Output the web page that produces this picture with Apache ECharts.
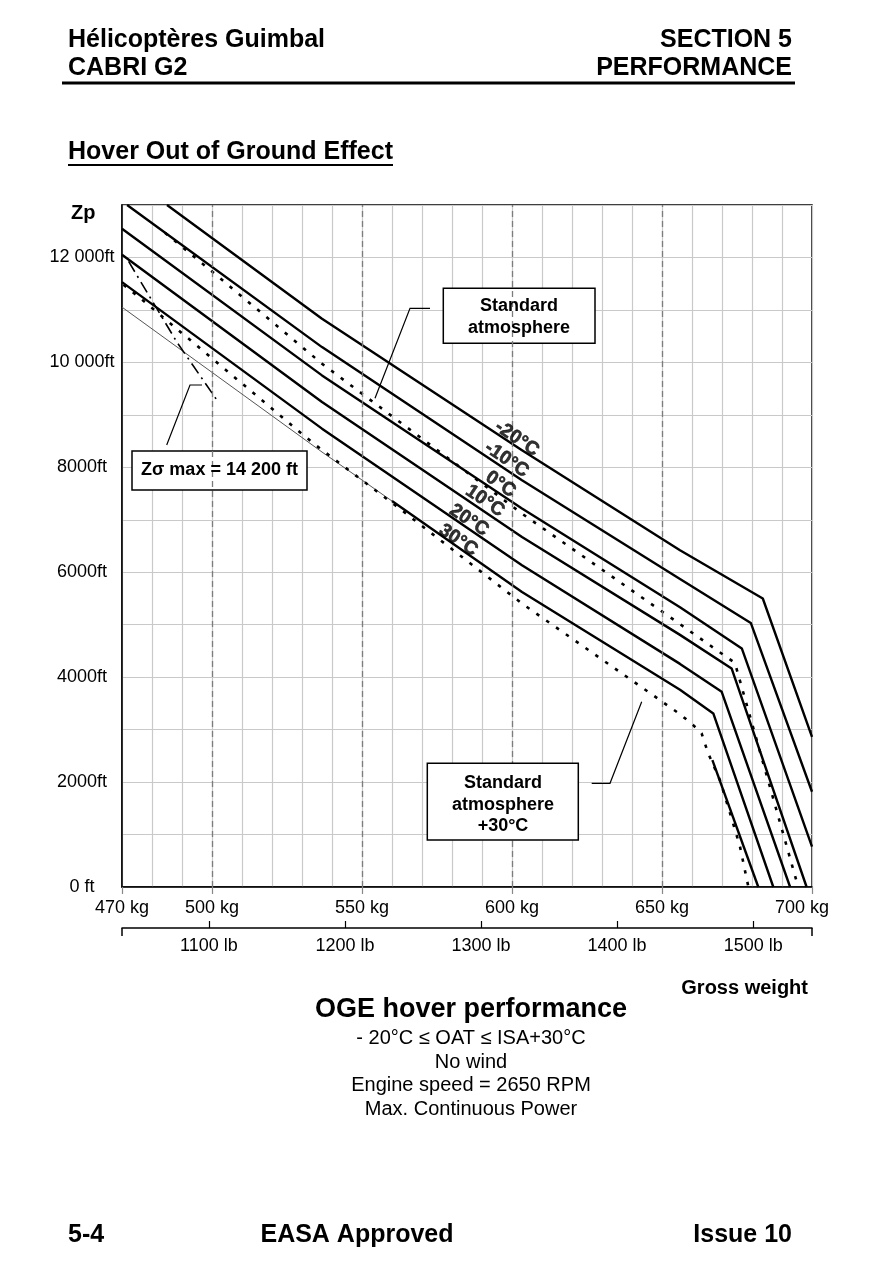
<!DOCTYPE html>
<html><head><meta charset="utf-8">
<script src="https://cdn.jsdelivr.net/npm/echarts@6/dist/echarts.min.js"></script>
<style>html,body{margin:0;padding:0;background:#fff}#c{width:881px;height:1285px}</style>
</head><body><div id="c"></div>
<script>
// ---- data (kg, ft) ----
const kgTicks = [470, 500, 550, 600, 650, 700];
const dashedKg = [500, 550, 600, 650];
const ftTicks = [0, 2000, 4000, 6000, 8000, 10000, 12000];
const lbTicks = [1100, 1200, 1300, 1400, 1500];
const curveM20 = [[485,13000],[536.67,10832],[603.33,8324],[656,6419],[683.6,5499],[700,2863]];
const curveM10 = [[471.7,13000],[536.67,10291],[603.33,7752],[656,5872],[679.6,5034],[700,1815]];
const curve0 = [[470,12547],[536.67,9752],[603.33,7213],[656,5333],[676.6,4547],[700,768]];
const curve10 = [[470,12050],[536.67,9244],[603.33,6672],[656,4806],[673.2,4166],[698.2,0]];
const curve20 = [[470,11530],[536.67,8737],[603.33,6133],[656,4253],[669.9,3720],[692.7,0]];
const curve30Upper = [[470,11053],[536.67,8291],[560,7357]];
const curve30 = [[560,7357],[603.33,5625],[656,3758],[667.1,3308],[687.1,0]];
const curve40 = [[666.8,2419],[682.1,0]];
const isaLine = [[484.3,12472],[500,11733],[536.67,9975],[603.33,7118],[656,5010],[674.3,4272],[695.4,0]];
const isa30Line = [[470.5,11480],[478.3,11118],[533.9,8451],[563.3,7180],[603.33,5404],[656,3295],[660.4,3086],[663.2,2928],[665.4,2547],[669.3,2038],[672.7,1404],[676,768],[678.8,0]];
const zSigmaLine = [[472.2,11924],[488.3,10386],[501.7,9276]];
const tempLabels = ['-20°C','-10°C','0°C','10°C','20°C','30°C'];
const tempLabelPos = [[601.6,8547],[598.2,8147],[596.2,7676],[591,7358],[585.7,6990],[582.1,6610]];
const KG_TO_LB = 2.20462;

const FONT = '"Liberation Sans", Arial, sans-serif';
const chart = echarts.init(document.getElementById('c'), null, {renderer: 'canvas'});

function solid(data, w, color) {
  return {type: 'line', data: data, symbol: 'none', showSymbol: false, silent: true, z: 3,
    lineStyle: {color: color || '#000', width: w || 2.4, join: 'round'}};
}
function dotted(data) {
  return {type: 'line', data: data, symbol: 'none', showSymbol: false, silent: true, z: 3,
    lineStyle: {color: '#000', width: 2.6, type: [3.5, 8.5], cap: 'butt'}};
}
function txt(text, x, y, font, align, z) {
  return {type: 'text', z: z || 11, style: {text: text, x: x, y: y, font: font, fill: '#000',
    textAlign: align || 'left', verticalAlign: 'middle'}};
}
function box(x1, y1, x2, y2, z) {
  return {type: 'rect', z: z, shape: {x: x1, y: y1, width: x2 - x1, height: y2 - y1},
    style: {fill: '#fff', stroke: '#000', lineWidth: 1.5}};
}
function poly(pts) {
  return {type: 'polyline', z: 5, shape: {points: pts}, style: {stroke: '#000', lineWidth: 1.2, fill: null}};
}
const B = 'bold ';

const option = {
  backgroundColor: '#fff',
  animation: false,
  grid: {left: 122, right: 69, top: 205, bottom: 398, show: true, borderColor: '#000', borderWidth: 1.5, backgroundColor: 'transparent'},
  xAxis: [
    {type: 'value', min: 470, max: 700, interval: 10, position: 'bottom', z: 1,
      axisLine: {show: true, onZero: false, lineStyle: {color: '#000', width: 1.5}},
      axisTick: {show: true, customValues: kgTicks, length: 7, lineStyle: {color: '#888', width: 1.2}},
      axisLabel: {customValues: kgTicks, fontSize: 18, color: '#000', fontFamily: FONT, margin: 12,
        formatter: v => v === 700 ? '{r|700 kg}' : v + ' kg',
        rich: {r: {fontSize: 18, color: '#000', fontFamily: FONT, padding: [0, 20, 0, 0]}}},
      splitLine: {show: false}},
    {type: 'value', min: 470 * KG_TO_LB, max: 700 * KG_TO_LB, position: 'bottom', offset: 41,
      axisLine: {show: true, onZero: false, lineStyle: {color: '#000', width: 1.5}},
      axisTick: {show: true, inside: true, customValues: lbTicks, length: 7, lineStyle: {color: '#000', width: 1.2}},
      axisLabel: {customValues: lbTicks, fontSize: 18, color: '#000', fontFamily: FONT, margin: 9, formatter: v => v + ' lb'},
      splitLine: {show: false}},
    {type: 'value', min: 470, max: 700, interval: 10, position: 'bottom', z: 0,
      axisLine: {show: false}, axisTick: {show: false}, axisLabel: {show: false},
      splitLine: {show: true, lineStyle: {color: '#c9c9c9', width: 1.2}}}
  ],
  yAxis: {type: 'value', min: 0, max: 13000, interval: 1000, z: 0,
    axisLine: {show: true, lineStyle: {color: '#000', width: 1.5}},
    axisTick: {show: false},
    axisLabel: {customValues: ftTicks, fontSize: 18, color: '#000', fontFamily: FONT, align: 'center', margin: 40,
      formatter: v => v === 0 ? '0 ft' : (v >= 10000 ? Math.floor(v / 1000) + ' 000ft' : v + 'ft')},
    splitLine: {show: true, lineStyle: {color: '#c9c9c9', width: 1.2}}},
  series: [
    {type: 'line', data: [[470, 0]], symbol: 'none', silent: true, z: 2, lineStyle: {opacity: 0},
      markLine: {symbol: 'none', silent: true, animation: false, label: {show: false},
        lineStyle: {color: '#7c7c7c', type: [6, 4], width: 1.3},
        data: dashedKg.map(v => ({xAxis: v}))}},
    solid(curveM20), solid(curveM10), solid(curve0), solid(curve10), solid(curve20),
    solid(curve30Upper, 1, '#555'), solid(curve30), solid(curve40),
    dotted(isaLine), dotted(isa30Line),
    {type: 'line', data: zSigmaLine, symbol: 'none', silent: true, z: 3,
      lineStyle: {color: '#000', width: 1.6, type: [12, 5, 2, 5]}},
    {type: 'scatter', symbolSize: 0, silent: true, z: 6, itemStyle: {color: '#000'},
      data: tempLabels.map((t, i) => ({name: t, value: tempLabelPos[i]})),
      label: {show: true, position: 'inside', formatter: '{b}', rotate: -34, fontSize: 19, fontWeight: 'bold',
        color: '#000', textBorderWidth: 0.6, textBorderColor: '#000', fontFamily: FONT}}
  ],
  graphic: {elements: [
    // header
    txt('Hélicoptères Guimbal', 68, 40, B + '25px ' + FONT),
    txt('CABRI G2', 68, 68, B + '25px ' + FONT),
    txt('SECTION 5', 792, 40, B + '25px ' + FONT, 'right'),
    txt('PERFORMANCE', 792, 68, B + '25px ' + FONT, 'right'),
    {type: 'line', z: 11, shape: {x1: 62, y1: 83, x2: 795, y2: 83}, style: {stroke: '#000', lineWidth: 3}},
    txt('Hover Out of Ground Effect', 68, 152, B + '25px ' + FONT),
    {type: 'line', z: 11, shape: {x1: 68, y1: 165, x2: 393, y2: 165}, style: {stroke: '#000', lineWidth: 2}},
    txt('Zp', 71, 213, B + '20px ' + FONT),
    // annotation boxes
    box(443.3, 288.3, 595, 343.3, 1),
    txt('Standard', 519, 306.5, B + '18px ' + FONT, 'center', 6),
    txt('atmosphere', 519, 328, B + '18px ' + FONT, 'center', 6),
    box(132, 451, 307, 490, 1),
    txt('Zσ max = 14 200 ft', 219.5, 470.5, B + '18px ' + FONT, 'center', 6),
    box(427.3, 763.3, 578.3, 840, 10),
    txt('Standard', 503, 783.5, B + '18px ' + FONT, 'center'),
    txt('atmosphere', 503, 805, B + '18px ' + FONT, 'center'),
    txt('+30°C', 503, 826.5, B + '18px ' + FONT, 'center'),
    // callouts
    poly([[430, 308.3], [410, 308.3], [375, 398.3]]),
    poly([[202, 385], [190, 385], [166.7, 445]]),
    poly([[591.7, 783.3], [610, 783.3], [641.7, 701.7]]),
    // captions
    txt('Gross weight', 808, 988, B + '20px ' + FONT, 'right'),
    txt('OGE hover performance', 471, 1010, B + '27px ' + FONT, 'center'),
    txt('- 20°C ≤ OAT ≤ ISA+30°C', 471, 1038, '20px ' + FONT, 'center'),
    txt('No wind', 471, 1062, '20px ' + FONT, 'center'),
    txt('Engine speed = 2650 RPM', 471, 1085, '20px ' + FONT, 'center'),
    txt('Max. Continuous Power', 471, 1109, '20px ' + FONT, 'center'),
    // footer
    txt('5-4', 68, 1235, B + '25px ' + FONT),
    txt('EASA Approved', 357, 1235, B + '25px ' + FONT, 'center'),
    txt('Issue 10', 792, 1235, B + '25px ' + FONT, 'right')
  ]}
};
chart.setOption(option);

// end caps of the lb scale, placed through the kg axis
const capY = chart.convertToPixel({yAxisIndex: 0}, 0) + 41;
const caps = [470, 700].map((kg, i) => {
  const px = chart.convertToPixel({xAxisIndex: 0}, kg);
  return {type: 'line', id: 'cap' + i, z: 11, shape: {x1: px, y1: capY, x2: px, y2: capY + 8},
    style: {stroke: '#000', lineWidth: 1.5}};
});
chart.setOption({graphic: {elements: caps}});
</script></body></html>
